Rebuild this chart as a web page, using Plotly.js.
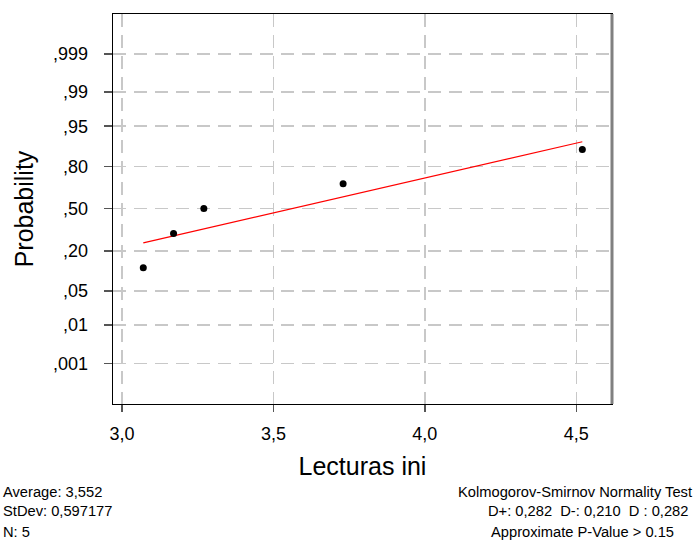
<!DOCTYPE html>
<html>
<head>
<meta charset="utf-8">
<script src="https://cdn.plot.ly/plotly-3.0.1.min.js"></script>
<style>html,body{margin:0;padding:0;background:#fff;}</style>
</head>
<body>
<div id="chart" style="width:698px;height:546px;"></div>
<script>
// Data
const lecturas = [3.07, 3.17, 3.27, 3.73, 4.52];
const plotProb = [0.119, 0.310, 0.500, 0.690, 0.881];
const fitX = [3.07, 4.52];
const fitProb = [0.247, 0.909];
const xTickVals = [3.0, 3.5, 4.0, 4.5];
const xTickText = ['3,0', '3,5', '4,0', '4,5'];
const yTickProbs = [0.001, 0.01, 0.05, 0.20, 0.50, 0.80, 0.95, 0.99, 0.999];
const yTickText = [',001', ',01', ',05', ',20', ',50', ',80', ',95', ',99', ',999'];
const statsLeft = ['Average: 3,552', 'StDev: 0,597177', 'N: 5'];
const statsRight = ['Kolmogorov-Smirnov Normality Test', 'D+: 0,282  D-: 0,210  D : 0,282', 'Approximate P-Value > 0.15'];

// Inverse standard normal CDF (Acklam)
function invNorm(p) {
  const a = [-3.969683028665376e+01, 2.209460984245205e+02, -2.759285104469687e+02, 1.383577518672690e+02, -3.066479806614716e+01, 2.506628277459239e+00];
  const b = [-5.447609879822406e+01, 1.615858368580409e+02, -1.556989798598866e+02, 6.680131188771972e+01, -1.328068155288572e+01];
  const c = [-7.784894002430293e-03, -3.223964580411365e-01, -2.400758277161838e+00, -2.549732539343734e+00, 4.374664141464968e+00, 2.938163982698783e+00];
  const d = [7.784695709041462e-03, 3.224671290700398e-01, 2.445134137142996e+00, 3.754408661907416e+00];
  const pl = 0.02425, ph = 1 - pl;
  let q, r;
  if (p < pl) {
    q = Math.sqrt(-2 * Math.log(p));
    return (((((c[0]*q+c[1])*q+c[2])*q+c[3])*q+c[4])*q+c[5]) / ((((d[0]*q+d[1])*q+d[2])*q+d[3])*q+1);
  } else if (p <= ph) {
    q = p - 0.5; r = q*q;
    return (((((a[0]*r+a[1])*r+a[2])*r+a[3])*r+a[4])*r+a[5])*q / (((((b[0]*r+b[1])*r+b[2])*r+b[3])*r+b[4])*r+1);
  } else {
    q = Math.sqrt(-2 * Math.log(1 - p));
    return -(((((c[0]*q+c[1])*q+c[2])*q+c[3])*q+c[4])*q+c[5]) / ((((d[0]*q+d[1])*q+d[2])*q+d[3])*q+1);
  }
}

const traces = [
  {
    x: fitX, y: fitProb.map(invNorm), type: 'scatter', mode: 'lines',
    line: {color: '#ff0000', width: 1.2}, hoverinfo: 'skip', showlegend: false
  },
  {
    x: lecturas, y: plotProb.map(invNorm), type: 'scatter', mode: 'markers',
    marker: {color: '#000000', size: 7, symbol: 'circle'}, showlegend: false
  }
];

const tickFont = {family: 'Liberation Sans, Arial, sans-serif', size: 18, color: '#000'};
const titleFont = {family: 'Liberation Sans, Arial, sans-serif', size: 25, color: '#000'};
const noteFont = {family: 'Liberation Sans, Arial, sans-serif', size: 14.7, color: '#000'};

const annotations = [];
const rowY = [501, 521, 543];
statsLeft.forEach((t, i) => annotations.push({
  text: t, xref: 'paper', yref: 'paper', x: (1 - 113) / 499.5, y: (546 - 142 - rowY[i]) / 404,
  xanchor: 'left', yanchor: 'bottom', showarrow: false, font: noteFont, yshift: -4
}));
const rightX = [695, 691, 677];
statsRight.forEach((t, i) => annotations.push({
  text: t, xref: 'paper', yref: 'paper', x: (rightX[i] - 113) / 499.5, y: (546 - 142 - rowY[i]) / 404,
  xanchor: 'right', yanchor: 'bottom', showarrow: false, font: noteFont, yshift: -4
}));

const layout = {
  width: 698, height: 546,
  margin: {l: 113, r: 85.5, t: 14, b: 142, pad: 0},
  paper_bgcolor: '#ffffff', plot_bgcolor: '#ffffff',
  showlegend: false,
  xaxis: {
    range: [2.970, 4.618],
    tickmode: 'array', tickvals: xTickVals, ticktext: xTickText,
    ticks: 'outside', ticklen: 7, tickwidth: 1.5, tickcolor: '#555',
    tickfont: tickFont, ticklabelstandoff: 6,
    showgrid: true, gridcolor: '#c8c8c8', griddash: '13px,8px', gridwidth: 1.5,
    zeroline: false, showline: true, linecolor: '#000', linewidth: 1.3, mirror: true,
    title: {text: 'Lecturas ini', font: titleFont, standoff: 14}
  },
  yaxis: {
    range: [-3.9, 3.885],
    tickmode: 'array', tickvals: yTickProbs.map(invNorm), ticktext: yTickText,
    ticks: 'outside', ticklen: 8, tickwidth: 1.5, tickcolor: '#555',
    tickfont: tickFont, ticklabelstandoff: 12,
    showgrid: true, gridcolor: '#c8c8c8', griddash: '13px,8px', gridwidth: 1.5,
    zeroline: false, showline: true, linecolor: '#000', linewidth: 1.3, mirror: true,
    title: {text: 'Probability', font: titleFont, standoff: 12}
  },
  shapes: [
    {type: 'line', xref: 'paper', yref: 'paper', x0: 1, x1: 1, y0: 0, y1: 1,
     line: {color: '#808080', width: 3}}
  ],
  annotations: annotations
};

Plotly.newPlot('chart', traces, layout, {displayModeBar: false, staticPlot: true});
</script>
</body>
</html>
